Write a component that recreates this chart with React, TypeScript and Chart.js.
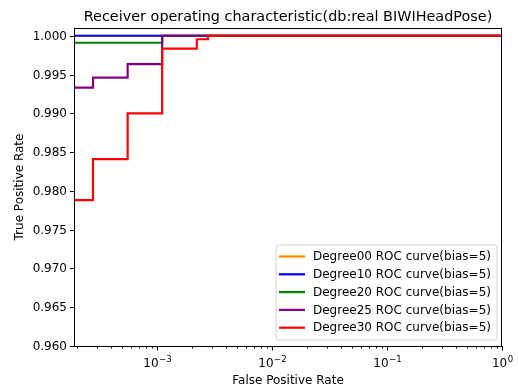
import React, { useEffect, useRef } from 'react';
import { Chart, registerables } from 'chart.js';

Chart.register(...registerables);

const TITLE = 'Receiver operating characteristic(db:real BIWIHeadPose)';
const X_LABEL = 'False Positive Rate';
const Y_LABEL = 'True Positive Rate';

const seriesNames = [
  'Degree00 ROC curve(bias=5)',
  'Degree10 ROC curve(bias=5)',
  'Degree20 ROC curve(bias=5)',
  'Degree25 ROC curve(bias=5)',
  'Degree30 ROC curve(bias=5)',
];
const seriesColors = ['#ff8c00', '#0000ff', '#008000', '#800080', '#ff0000'];

const deg00Fpr = [1e-4, 1];
const deg00Tpr = [1.0, 1.0];
const deg10Fpr = [1e-4, 1];
const deg10Tpr = [1.0, 1.0];
const deg20Fpr = [1e-4, 1.11e-3, 1];
const deg20Tpr = [0.9991, 1.0, 1.0];
const deg25Fpr = [1e-4, 2.78e-4, 5.56e-4, 1.11e-3, 1];
const deg25Tpr = [0.9933, 0.9946, 0.99635, 1.0, 1.0];
const deg30Fpr = [1e-4, 2.78e-4, 5.56e-4, 1.11e-3, 2.22e-3, 2.78e-3, 1];
const deg30Tpr = [0.9788, 0.9841, 0.99, 0.99835, 0.99955, 1.0, 1.0];

const seriesFpr = [deg00Fpr, deg10Fpr, deg20Fpr, deg25Fpr, deg30Fpr];
const seriesTpr = [deg00Tpr, deg10Tpr, deg20Tpr, deg25Tpr, deg30Tpr];

const X_MIN = 1.9e-4;
const X_MAX = 1;
const Y_MIN = 0.96;
const Y_MAX = 1.001;
const yTicks = [0.96, 0.965, 0.97, 0.975, 0.98, 0.985, 0.99, 0.995, 1.0];
const xTicks = [1e-3, 1e-2, 1e-1, 1];
const xTickExps = ['\u22123', '\u22122', '\u22121', '0'];
const xMinorMultipliers = [2, 3, 4, 5, 6, 7, 8, 9];
const xMinorDecades = [1e-4, 1e-3, 1e-2, 1e-1];

const FONT = '"DejaVu Sans", Verdana, sans-serif';
const LABEL_PX = 12;
const SUP_PX = 8.6;
const TITLE_PX = 14.4;

const decorPlugin = {
  id: 'decor',
  afterDraw(chart: any) {
    const ctx = chart.ctx as CanvasRenderingContext2D;
    const area = chart.chartArea;
    const xs = chart.scales.x;
    const ys = chart.scales.y;
    ctx.save();
    ctx.fillStyle = '#000';
    ctx.strokeStyle = '#000';
    ctx.lineWidth = 1;

    // spines
    ctx.strokeRect(Math.round(area.left) + 0.5, Math.round(area.top) + 0.5,
      Math.round(area.right - area.left) - 1, Math.round(area.bottom - area.top));

    // y ticks
    ctx.font = `${LABEL_PX}px ${FONT}`;
    ctx.textAlign = 'right';
    ctx.textBaseline = 'middle';
    for (const v of yTicks) {
      const y = Math.round(ys.getPixelForValue(v)) + 0.5;
      ctx.beginPath();
      ctx.moveTo(area.left - 4, y);
      ctx.lineTo(area.left, y);
      ctx.stroke();
      ctx.fillText(v.toFixed(3), area.left - 7, y);
    }

    // x minor ticks
    for (const d of xMinorDecades) {
      for (const m of xMinorMultipliers) {
        const v = d * m;
        if (v < X_MIN || v > X_MAX) continue;
        const x = Math.round(xs.getPixelForValue(v)) + 0.5;
        ctx.beginPath();
        ctx.moveTo(x, area.bottom);
        ctx.lineTo(x, area.bottom + 2.5);
        ctx.stroke();
      }
    }
    // x major ticks + labels
    xTicks.forEach((v, i) => {
      const x = Math.round(xs.getPixelForValue(v)) + 0.5;
      ctx.beginPath();
      ctx.moveTo(x, area.bottom);
      ctx.lineTo(x, area.bottom + 4.5);
      ctx.stroke();
      ctx.font = `${LABEL_PX}px ${FONT}`;
      const baseW = ctx.measureText('10').width;
      ctx.font = `${SUP_PX}px ${FONT}`;
      const expW = ctx.measureText(xTickExps[i]).width;
      const total = baseW + expW + 0.5;
      const sx = x - total / 2;
      ctx.textAlign = 'left';
      ctx.textBaseline = 'alphabetic';
      ctx.font = `${LABEL_PX}px ${FONT}`;
      ctx.fillText('10', sx, area.bottom + 21);
      ctx.font = `${SUP_PX}px ${FONT}`;
      ctx.fillText(xTickExps[i], sx + baseW + 0.5, area.bottom + 15.5);
    });

    // axis labels
    ctx.font = `${LABEL_PX}px ${FONT}`;
    ctx.textAlign = 'center';
    ctx.textBaseline = 'middle';
    ctx.fillText(X_LABEL, (area.left + area.right) / 2, 381);
    ctx.save();
    ctx.translate(20, (area.top + area.bottom) / 2);
    ctx.rotate(-Math.PI / 2);
    ctx.fillText(Y_LABEL, 0, 0);
    ctx.restore();

    // title
    ctx.font = `${TITLE_PX}px ${FONT}`;
    ctx.textAlign = 'center';
    ctx.textBaseline = 'alphabetic';
    ctx.fillText(TITLE, (area.left + area.right) / 2, 21);

    // legend
    const bx = area.right - 226;
    const by = area.bottom - 101;
    const bw = 221;
    const bh = 95;
    ctx.beginPath();
    const r = 3;
    ctx.moveTo(bx + r, by);
    ctx.lineTo(bx + bw - r, by);
    ctx.arcTo(bx + bw, by, bx + bw, by + r, r);
    ctx.lineTo(bx + bw, by + bh - r);
    ctx.arcTo(bx + bw, by + bh, bx + bw - r, by + bh, r);
    ctx.lineTo(bx + r, by + bh);
    ctx.arcTo(bx, by + bh, bx, by + bh - r, r);
    ctx.lineTo(bx, by + r);
    ctx.arcTo(bx, by, bx + r, by, r);
    ctx.closePath();
    ctx.fillStyle = 'rgba(255,255,255,0.8)';
    ctx.fill();
    ctx.strokeStyle = '#d0d0d0';
    ctx.lineWidth = 1;
    ctx.stroke();

    ctx.font = `${LABEL_PX}px ${FONT}`;
    ctx.textAlign = 'left';
    ctx.textBaseline = 'middle';
    seriesNames.forEach((name, i) => {
      const cy = by + 11.5 + i * 17.8;
      ctx.strokeStyle = seriesColors[i];
      ctx.lineWidth = 2.2;
      ctx.beginPath();
      ctx.moveTo(bx + 3, cy);
      ctx.lineTo(bx + 29, cy);
      ctx.stroke();
      ctx.fillStyle = '#000';
      ctx.fillText(name, bx + 37, cy + 0.5);
    });
    ctx.restore();
  },
};

export default function App() {
  const canvasRef = useRef<HTMLCanvasElement | null>(null);

  useEffect(() => {
    if (!canvasRef.current) return;
    const datasets = seriesNames.map((name, i) => ({
      label: name,
      data: seriesFpr[i].map((x, j) => ({ x, y: seriesTpr[i][j] })),
      borderColor: seriesColors[i],
      backgroundColor: seriesColors[i],
      borderWidth: 2.2,
      pointRadius: 0,
      stepped: 'before' as const,
      fill: false,
      order: seriesNames.length - i,
    }));
    const chart = new Chart(canvasRef.current, {
      type: 'line',
      data: { datasets },
      options: {
        animation: false,
        responsive: false,
        maintainAspectRatio: false,
        layout: { padding: { left: 0, top: 28, right: 16, bottom: 0 } },
        plugins: {
          legend: { display: false },
          title: { display: false },
          tooltip: { enabled: false },
        },
        scales: {
          x: {
            type: 'logarithmic',
            min: X_MIN,
            max: X_MAX,
            grid: { display: false },
            border: { display: false },
            ticks: { display: false },
            afterFit: (s: any) => { s.height = 44; },
          },
          y: {
            type: 'linear',
            min: Y_MIN,
            max: Y_MAX,
            grid: { display: false },
            border: { display: false },
            ticks: { display: false },
            afterFit: (s: any) => { s.width = 74; },
          },
        },
      },
      plugins: [decorPlugin],
    });
    return () => chart.destroy();
  }, []);

  return (
    <div style={{ position: 'fixed', left: 0, top: 0, width: 518, height: 390, background: '#fff' }}>
      <canvas ref={canvasRef} width={518} height={390} style={{ width: 518, height: 390 }} />
    </div>
  );
}
